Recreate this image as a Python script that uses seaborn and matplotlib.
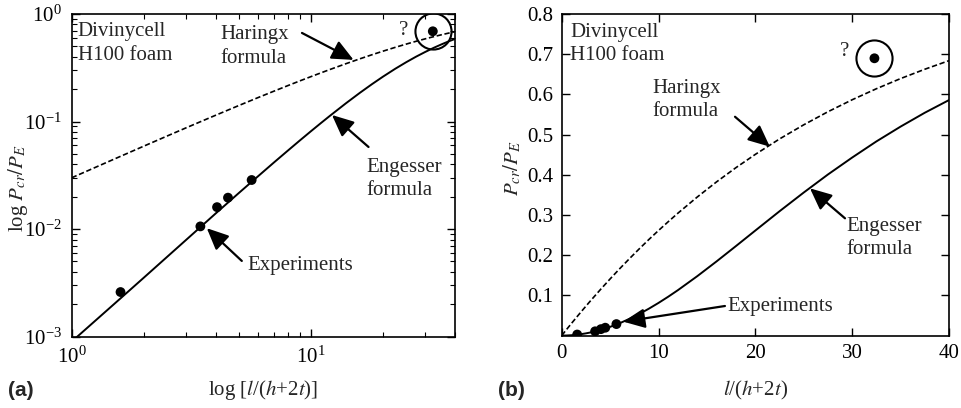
import numpy as np
import pandas as pd
import matplotlib
matplotlib.use("Agg")
import matplotlib.pyplot as plt
import seaborn as sns

# ---- data ----
slenderness = [0.0, 0.5, 1.0, 1.5, 2.0, 2.5, 3.0, 4.0, 5.0, 6.0, 7.0, 8.0, 9.0, 10.0, 11.0, 12.0,
               14.0, 16.0, 18.0, 20.0, 22.5, 25.0, 27.5, 30.0, 32.5, 35.0, 37.5, 40.0]
haringx = [0.0, 0.0151, 0.0300, 0.0446, 0.0590, 0.0732, 0.0872, 0.1145, 0.1410, 0.1667,
           0.1915, 0.2156, 0.2390, 0.2615, 0.2833, 0.3045, 0.3448, 0.3826, 0.4179, 0.4509,
           0.4893, 0.5245, 0.5570, 0.5868, 0.6142, 0.6395, 0.6627, 0.6841]
engesser = [0.0, 0.00022, 0.00090, 0.00200, 0.00353, 0.0055, 0.0079, 0.0140, 0.0217, 0.0309,
            0.0416, 0.0536, 0.0669, 0.0813, 0.0967, 0.1130, 0.1478, 0.1847, 0.2228, 0.2614,
            0.3094, 0.3560, 0.4009, 0.4430, 0.4831, 0.5200, 0.5545, 0.5860]
exp_x = [1.6, 3.45, 4.05, 4.5, 5.65, 32.3]
exp_y = [0.0026, 0.0106, 0.0160, 0.0196, 0.0286, 0.690]

sns.set_style("ticks")
plt.rcParams.update({
    "font.family": ["Liberation Serif", "DejaVu Serif"],
    "mathtext.fontset": "stix",
    "font.size": 15,
    "axes.linewidth": 1.2,
    "xtick.major.width": 1.0, "ytick.major.width": 1.0,
    "xtick.minor.width": 0.8, "ytick.minor.width": 0.8,
    "xtick.color": "k", "ytick.color": "k",
    "axes.edgecolor": "k",
})
FS = 15

df = pd.DataFrame({"lam": slenderness, "Haringx": haringx, "Engesser": engesser})
df_log = df[df["lam"] >= 1.0]

fig = plt.figure(figsize=(9.61, 4.08), dpi=100)
ax1 = fig.add_axes([0.0746, 0.1748, 0.3989, 0.791])
ax2 = fig.add_axes([0.5845, 0.1775, 0.4030, 0.788])

dash = (0, (3.2, 1.6))
arrow = dict(arrowstyle="-|>,head_length=0.55,head_width=0.25", color="k", lw=1.6,
             mutation_scale=24, shrinkA=0, shrinkB=0)


def arrow_to(ax, tip, tail):
    ax.annotate("", xy=tip, xytext=tail, arrowprops=arrow)


def label(ax, fx, fy, s, **kw):
    ax.text(fx, fy, s, transform=ax.transAxes, fontsize=FS, ha="left", va="center",
            linespacing=1.3, **kw)


# ---------- (a) log-log ----------
ax1.set_xscale("log")
ax1.set_yscale("log")
sns.lineplot(data=df_log, x="lam", y="Engesser", ax=ax1, color="k", lw=1.4)
sns.lineplot(data=df_log, x="lam", y="Haringx", ax=ax1, color="k", lw=1.2, linestyle=dash)
sns.scatterplot(x=exp_x, y=exp_y, ax=ax1, color="k", s=50, edgecolor="none", zorder=5)
ax1.plot([exp_x[-1]], [exp_y[-1]], marker="o", ms=26, mfc="none", mec="k", mew=1.5, ls="none")
ax1.set_xlim(1, 40)
ax1.set_ylim(1e-3, 1)
ax1.tick_params(which="both", direction="in", top=True, right=True, labelsize=FS)
ax1.tick_params(which="major", length=6, pad=7)
ax1.tick_params(which="minor", length=3.5)
ax1.set_xlabel("log [$l$/($h$+2$t$)]", fontsize=FS)
ax1.xaxis.set_label_coords(0.5, -0.165)
ax1.xaxis.label.set_va("center")
ax1.set_ylabel("log $P_{cr}/P_E$", fontsize=FS)
ax1.yaxis.set_label_coords(-0.140, 0.461)
ax1.yaxis.label.set_va("center")

label(ax1, 0.0157, 0.9086, "Divinycell\nH100 foam")
label(ax1, 0.387, 0.8993, "Haringx\nformula")
arrow_to(ax1, (15.07, 0.374), (9.17, 0.666))
label(ax1, 0.7696, 0.4887, "Engesser\nformula")
arrow_to(ax1, (12.24, 0.115), (17.4, 0.058))
label(ax1, 0.458, 0.22, "Experiments")
arrow_to(ax1, (3.67, 0.0102), (5.14, 0.00506))
ax1.text(0.865, 0.950, "?", transform=ax1.transAxes, fontsize=FS, ha="center", va="center")

# ---------- (b) linear ----------
sns.lineplot(data=df, x="lam", y="Engesser", ax=ax2, color="k", lw=1.4)
sns.lineplot(data=df, x="lam", y="Haringx", ax=ax2, color="k", lw=1.2, linestyle=dash)
sns.scatterplot(x=exp_x, y=exp_y, ax=ax2, color="k", s=50, edgecolor="none", zorder=5)
ax2.plot([exp_x[-1]], [exp_y[-1]], marker="o", ms=26, mfc="none", mec="k", mew=1.5, ls="none")
ax2.set_xlim(0, 40)
ax2.set_ylim(0, 0.8)
ax2.set_xticks([0, 10, 20, 30, 40])
ax2.set_yticks([0.1, 0.2, 0.3, 0.4, 0.5, 0.6, 0.7, 0.8])
ax2.set_yticklabels(["0.1", "0.2", "0.3", "0.4", "0.5", "0.6", "0.7", "0.8"])
ax2.tick_params(which="both", direction="in", top=True, right=True, labelsize=FS)
ax2.tick_params(which="major", length=6, pad=6)
ax2.set_xlabel("$l$/($h$+2$t$)", fontsize=FS)
ax2.xaxis.set_label_coords(0.5, -0.170)
ax2.xaxis.label.set_va("center")
ax2.set_ylabel("$P_{cr}/P_E$", fontsize=FS)
ax2.yaxis.set_label_coords(-0.126, 0.521)
ax2.yaxis.label.set_va("center")

label(ax2, 0.0214, 0.908, "Divinycell\nH100 foam")
label(ax2, 0.235, 0.733, "Haringx\nformula")
arrow_to(ax2, (21.5, 0.47), (17.9, 0.5445))
label(ax2, 0.736, 0.3025, "Engesser\nformula")
arrow_to(ax2, (25.64, 0.3664), (29.26, 0.2918))
label(ax2, 0.4276, 0.0899, "Experiments")
arrow_to(ax2, (6.36, 0.0346), (16.86, 0.0736))
ax2.text(0.7297, 0.883, "?", transform=ax2.transAxes, fontsize=FS, ha="center", va="center")

fig.text(0.008, 0.044, "(a)", fontfamily="Liberation Sans", fontweight="bold", fontsize=FS, va="center")
fig.text(0.518, 0.044, "(b)", fontfamily="Liberation Sans", fontweight="bold", fontsize=FS, va="center")

fig.savefig("out.png", dpi=100)
